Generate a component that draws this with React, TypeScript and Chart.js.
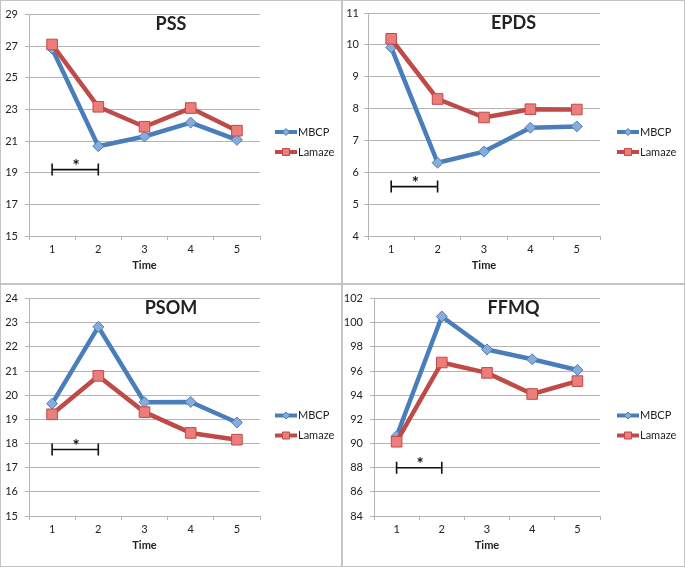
import React, { useEffect, useRef } from "react";
import { Chart, registerables } from "chart.js";

Chart.register(...registerables);

// ---------- data ----------
const timeLabels = ["1", "2", "3", "4", "5"];
const seriesNames = ["MBCP", "Lamaze"];
const axisTitle = "Time";
const panelTitles = ["PSS", "EPDS", "PSOM", "FFMQ"];

const pssMBCP = [26.85, 20.68, 21.29, 22.17, 21.08];
const pssLamaze = [27.11, 23.17, 21.91, 23.09, 21.66];
const epdsMBCP = [9.92, 6.3, 6.65, 7.4, 7.44];
const epdsLamaze = [10.19, 8.3, 7.72, 7.98, 7.97];
const psomMBCP = [19.65, 22.83, 19.71, 19.72, 18.87];
const psomLamaze = [19.21, 20.8, 19.3, 18.44, 18.16];
const ffmqMBCP = [90.6, 100.52, 97.79, 96.98, 96.09];
const ffmqLamaze = [90.15, 96.71, 95.85, 94.1, 95.17];

// [min, max, step]
const pssRange = [15, 29, 2];
const epdsRange = [4, 11, 1];
const psomRange = [15, 24, 1];
const ffmqRange = [84, 102, 2];

// significance bracket (between time 1 and 2)
const bracketFrom = "1";
const bracketTo = "2";
const bracketMark = "*";
const bracketLevels = [19.2, 5.55, 17.75, 88];

// ---------- styles ----------
const FONT = "Lato, 'Open Sans', 'Liberation Sans', sans-serif";
const BLUE = "#4A7EBB";
const BLUE_FILL = "#86ACDC";
const RED = "#BE4B48";
const RED_FILL = "#EC7D7B";
const GRID = "#b4b4b4";
const TEXT = "#222222";

type Spec = { title: string; mbcp: number[]; lamaze: number[]; range: number[]; bracket: number };
type Frame = { left: number; top: number; w: number; h: number; pl: number; pr: number; pt: number; pb: number; yPad: number };

const specs: Spec[] = [
  { title: panelTitles[0], mbcp: pssMBCP, lamaze: pssLamaze, range: pssRange, bracket: bracketLevels[0] },
  { title: panelTitles[1], mbcp: epdsMBCP, lamaze: epdsLamaze, range: epdsRange, bracket: bracketLevels[1] },
  { title: panelTitles[2], mbcp: psomMBCP, lamaze: psomLamaze, range: psomRange, bracket: bracketLevels[2] },
  { title: panelTitles[3], mbcp: ffmqMBCP, lamaze: ffmqLamaze, range: ffmqRange, bracket: bracketLevels[3] },
];

// page-coordinate frames: panel box + plot area edges
const frames: Frame[] = [
  { left: 0, top: 0, w: 342, h: 284, pl: 29, pr: 260, pt: 13, pb: 236, yPad: 7 },
  { left: 342, top: 0, w: 343, h: 284, pl: 368, pr: 600, pt: 13, pb: 236, yPad: 5 },
  { left: 0, top: 284, w: 342, h: 283, pl: 29, pr: 260, pt: 294, pb: 516, yPad: 7 },
  { left: 342, top: 284, w: 343, h: 283, pl: 374, pr: 600, pt: 294, pb: 516, yPad: 7 },
];

const decorPlugin = {
  id: "decor",
  afterDraw(chart: any, _args: any, opts: any) {
    const { ctx, chartArea, scales } = chart;
    const cw = chart.width;
    const ch = chart.height;
    ctx.save();
    // title
    ctx.fillStyle = TEXT;
    ctx.font = `bold 18px ${FONT}`;
    ctx.textAlign = "center";
    ctx.textBaseline = "middle";
    ctx.fillText(opts.title, cw / 2, chartArea.top + 10);

    // bracket
    const x1 = scales.x.getPixelForValue(timeLabels.indexOf(bracketFrom));
    const x2 = scales.x.getPixelForValue(timeLabels.indexOf(bracketTo));
    const yb = scales.y.getPixelForValue(opts.bracket);
    ctx.strokeStyle = "#111";
    ctx.lineWidth = 1.6;
    ctx.beginPath();
    ctx.moveTo(x1, yb);
    ctx.lineTo(x2, yb);
    ctx.moveTo(x1, yb - 6);
    ctx.lineTo(x1, yb + 6);
    ctx.moveTo(x2, yb - 6);
    ctx.lineTo(x2, yb + 6);
    ctx.stroke();
    ctx.font = `bold 17px ${FONT}`;
    ctx.textBaseline = "alphabetic";
    ctx.fillStyle = "#111";
    ctx.fillText(bracketMark, (x1 + x2) / 2 + 1, yb + 2);

    // legend
    const lx = 274;
    const ly0 = ch / 2 - 10;
    chart.data.datasets.forEach((ds: any, i: number) => {
      const y = ly0 + i * 20;
      ctx.strokeStyle = ds.borderColor;
      ctx.lineWidth = 4;
      ctx.beginPath();
      ctx.moveTo(lx, y);
      ctx.lineTo(lx + 22, y);
      ctx.stroke();
      const mx = lx + 11;
      ctx.fillStyle = ds.pointBackgroundColor;
      ctx.strokeStyle = ds.borderColor;
      ctx.lineWidth = 1;
      ctx.beginPath();
      if (ds.pointStyle === "rectRot") {
        ctx.moveTo(mx, y - 3.5);
        ctx.lineTo(mx + 3.5, y);
        ctx.lineTo(mx, y + 3.5);
        ctx.lineTo(mx - 3.5, y);
        ctx.closePath();
      } else {
        ctx.rect(mx - 3.5, y - 3.5, 7, 7);
      }
      ctx.fill();
      ctx.stroke();
      ctx.fillStyle = TEXT;
      ctx.font = `11px ${FONT}`;
      ctx.textAlign = "left";
      ctx.textBaseline = "middle";
      ctx.fillText(ds.label, lx + 23, y);
    });
    ctx.restore();
  },
};

function Panel({ spec, frame }: { spec: Spec; frame: Frame }) {
  const ref = useRef<HTMLCanvasElement>(null);
  const cw = frame.w - 2;
  const ch = frame.h - 2;
  useEffect(() => {
    const ox = frame.left + 1;
    const oy = frame.top + 1;
    const plotL = frame.pl - ox;
    const plotR = frame.pr - ox;
    const plotT = frame.pt - oy;
    const plotB = frame.pb - oy;
    const xAxisH = ch - plotB;
    const titleLH = 11 * 1.2;
    const titlePadBottom = ch - (plotB + 29) - titleLH / 2;
    const chart = new Chart(ref.current as HTMLCanvasElement, {
      type: "line",
      data: {
        labels: timeLabels,
        datasets: [
          {
            label: seriesNames[0],
            data: spec.mbcp,
            borderColor: BLUE,
            backgroundColor: BLUE_FILL,
            borderWidth: 4.5,
            borderJoinStyle: "round",
            pointStyle: "rectRot",
            pointRadius: 5.5,
            pointBackgroundColor: BLUE_FILL,
            pointBorderColor: BLUE,
            pointBorderWidth: 1,
            tension: 0,
            order: 1,
          },
          {
            label: seriesNames[1],
            data: spec.lamaze,
            borderColor: RED,
            backgroundColor: RED_FILL,
            borderWidth: 4.5,
            borderJoinStyle: "round",
            pointStyle: "rect",
            pointRadius: 7.5,
            pointBackgroundColor: RED_FILL,
            pointBorderColor: RED,
            pointBorderWidth: 1,
            tension: 0,
            order: 0,
          },
        ],
      },
      options: {
        responsive: false,
        animation: false,
        events: [],
        layout: { padding: { left: 0, top: plotT, right: cw - plotR, bottom: 0 } },
        plugins: {
          legend: { display: false },
          title: { display: false },
          tooltip: { enabled: false },
          decor: { title: spec.title, bracket: spec.bracket },
        } as any,
        scales: {
          x: {
            type: "category",
            offset: true,
            grid: { offset: true, drawOnChartArea: false, drawTicks: true, tickLength: 4, color: GRID },
            border: { color: GRID, width: 1 },
            ticks: { color: TEXT, font: { family: FONT, size: 11 }, padding: 3, maxRotation: 0 },
            title: {
              display: true,
              text: axisTitle,
              color: TEXT,
              font: { family: FONT, size: 11, weight: "bold" },
              padding: { top: 0, bottom: titlePadBottom },
            },
            afterFit: (s: any) => {
              s.height = xAxisH;
            },
          },
          y: {
            min: spec.range[0],
            max: spec.range[1],
            grid: { color: GRID, lineWidth: 1, drawTicks: true, tickLength: 4 },
            border: { color: GRID, width: 1 },
            ticks: {
              stepSize: spec.range[2],
              color: TEXT,
              font: { family: FONT, size: 11 },
              padding: frame.yPad,
            },
            afterFit: (s: any) => {
              s.width = plotL;
            },
          },
        },
      },
      plugins: [decorPlugin],
    } as any);
    return () => chart.destroy();
  }, []);
  return (
    <div
      style={{
        position: "absolute",
        left: frame.left,
        top: frame.top,
        width: frame.w,
        height: frame.h,
        border: "1px solid #c4c4c4",
        boxSizing: "border-box",
        background: "#fff",
      }}
    >
      <canvas ref={ref} width={cw} height={ch} style={{ display: "block", width: cw, height: ch }} />
    </div>
  );
}

export default function App() {
  return (
    <div style={{ position: "absolute", left: 0, top: 0, width: 685, height: 568, background: "#fff" }}>
      {specs.map((s, i) => (
        <Panel key={i} spec={s} frame={frames[i]} />
      ))}
    </div>
  );
}
